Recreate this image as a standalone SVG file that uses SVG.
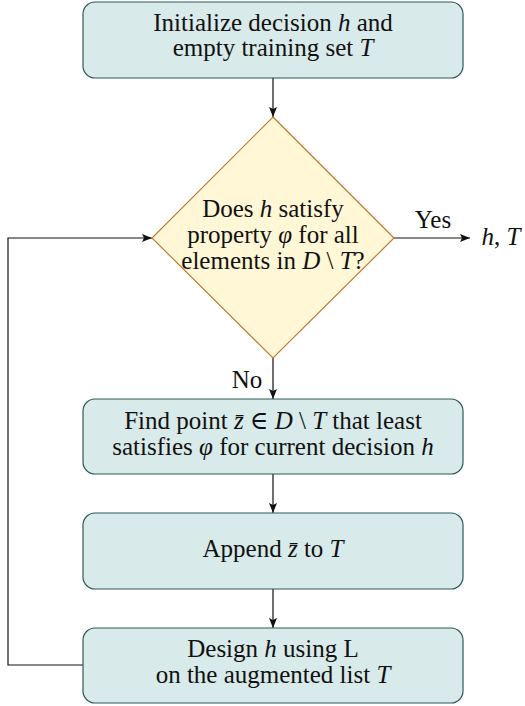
<svg xmlns="http://www.w3.org/2000/svg" width="525" height="706" viewBox="0 0 525 706">
<defs>
<style>
.box{fill:#d8eae9;stroke:#2c5a58;stroke-width:1.2}
.dia{fill:#fff7d6;stroke:#c47a2e;stroke-width:1.2}
.t{font-family:"Liberation Serif","DejaVu Serif",serif;font-size:25px;fill:#111;text-anchor:middle}
.i{font-family:"Liberation Serif","DejaVu Serif",serif;font-style:italic}
.c{fill:none;stroke:#111;stroke-width:1.2}
</style>
<marker id="ah" viewBox="0 0 10 8" refX="10" refY="4" markerWidth="10" markerHeight="8" markerUnits="userSpaceOnUse" orient="auto">
<path d="M0,0 L10,4 L0,8 L2,4 Z" fill="#111"/>
</marker>
</defs>
<rect width="525" height="706" fill="#fff"/>
<g id="connectors">
<line class="c" x1="273" y1="78" x2="273" y2="117" marker-end="url(#ah)"/>
<line class="c" x1="273" y1="358" x2="273" y2="399" marker-end="url(#ah)"/>
<line class="c" x1="273" y1="474" x2="273" y2="513" marker-end="url(#ah)"/>
<line class="c" x1="273" y1="589" x2="273" y2="628" marker-end="url(#ah)"/>
<polyline class="c" points="83,665 8,665 8,238 152,238" marker-end="url(#ah)"/>
<line class="c" x1="394" y1="238" x2="470" y2="238" marker-end="url(#ah)"/>
<text class="t" x="433" y="228">Yes</text>
<text class="t" x="247" y="388">No</text>
<text class="t" x="501" y="245"><tspan class="i">h</tspan>, <tspan class="i">T</tspan></text>
</g>
<g id="init">
<rect class="box" x="83" y="2" width="380" height="76" rx="12"/>
<text class="t" x="273" y="31">Initialize decision <tspan class="i">h</tspan> and<tspan x="273" dy="25">empty training set </tspan><tspan class="i">T</tspan></text>
</g>
<g id="check">
<polygon class="dia" points="273,117 394,238 273,358 152,238"/>
<text class="t" x="273" y="217">Does <tspan class="i">h</tspan> satisfy<tspan x="273" dy="26">property </tspan><tspan class="i">φ</tspan> for all<tspan x="273" dy="26">elements in </tspan><tspan class="i">D</tspan> \ <tspan class="i">T</tspan>?</text>
</g>
<g id="find">
<rect class="box" x="83" y="399" width="380" height="75" rx="12"/>
<text class="t" x="273" y="429">Find point <tspan class="i">z̄</tspan> ∈ <tspan class="i">D</tspan> \ <tspan class="i">T</tspan> that least<tspan x="273" dy="26">satisfies </tspan><tspan class="i">φ</tspan> for current decision <tspan class="i">h</tspan></text>
</g>
<g id="append">
<rect class="box" x="83" y="513" width="380" height="76" rx="12"/>
<text class="t" x="273" y="557">Append <tspan class="i">z̄</tspan> to <tspan class="i">T</tspan></text>
</g>
<g id="design">
<rect class="box" x="83" y="628" width="380" height="75" rx="12"/>
<text class="t" x="273" y="657">Design <tspan class="i">h</tspan> using L<tspan x="273" dy="26">on the augmented list </tspan><tspan class="i">T</tspan></text>
</g>
</svg>
